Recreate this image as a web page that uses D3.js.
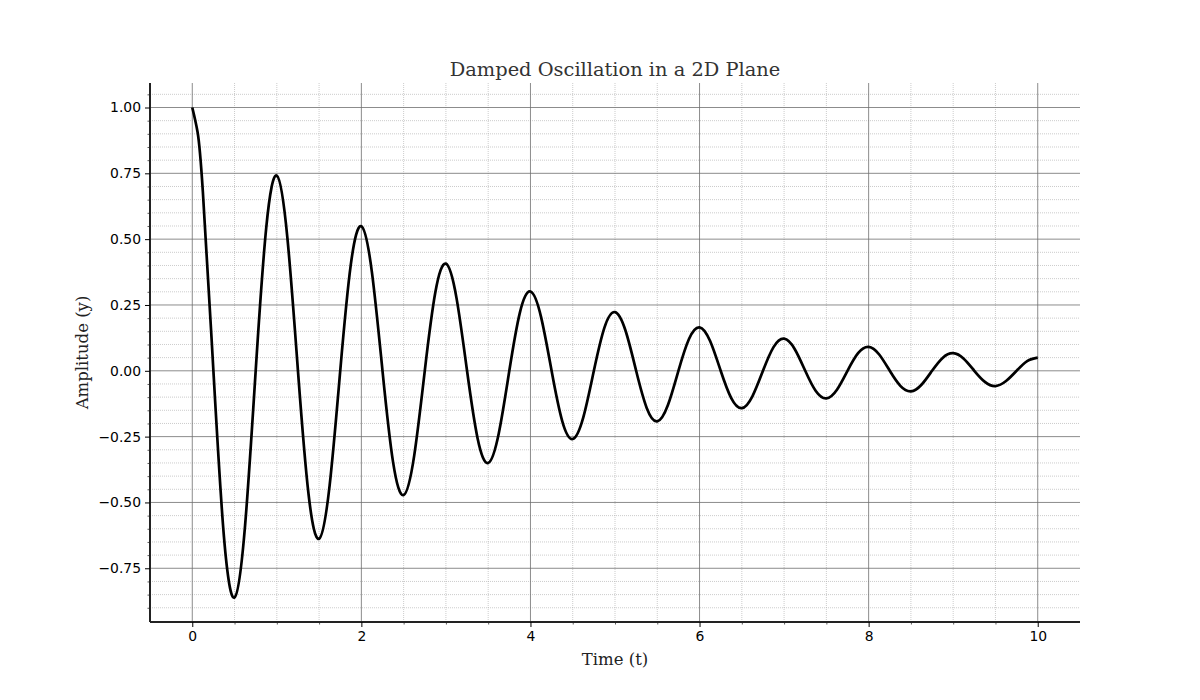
<!DOCTYPE html>
<html>
<head>
<meta charset="utf-8">
<script src="https://cdn.jsdelivr.net/npm/d3@7"></script>
<style>
  html, body { margin: 0; padding: 0; background: #fff; }
  .tick text { font-family: "DejaVu Sans", sans-serif; font-size: 13.9px; fill: #000; }
</style>
</head>
<body>
<div id="chart"></div>
<script>
const timeValues = [
  0, 0.0625, 0.125, 0.25, 0.375, 0.5, 0.625, 0.75, 0.875,
  1, 1.125, 1.25, 1.375, 1.5, 1.625, 1.75, 1.875,
  2, 2.125, 2.25, 2.375, 2.5, 2.625, 2.75, 2.875,
  3, 3.125, 3.25, 3.375, 3.5, 3.625, 3.75, 3.875,
  4, 4.125, 4.25, 4.375, 4.5, 4.625, 4.75, 4.875,
  5, 5.125, 5.25, 5.375, 5.5, 5.625, 5.75, 5.875,
  6, 6.125, 6.25, 6.375, 6.5, 6.625, 6.75, 6.875,
  7, 7.125, 7.25, 7.375, 7.5, 7.625, 7.75, 7.875,
  8, 8.125, 8.25, 8.375, 8.5, 8.625, 8.75, 8.875,
  9, 9.125, 9.25, 9.375, 9.5, 9.625, 9.75, 9.875,
  10
];
const amplitudeValues = [
  1.000, 0.907, 0.681, 0, -0.632, -0.861, -0.586, 0, 0.544,
  0.741, 0.505, 0, -0.468, -0.638, -0.434, 0, 0.403,
  0.549, 0.374, 0, -0.347, -0.472, -0.322, 0, 0.298,
  0.407, 0.277, 0, -0.257, -0.350, -0.238, 0, 0.221,
  0.301, 0.205, 0, -0.190, -0.259, -0.177, 0, 0.164,
  0.223, 0.152, 0, -0.141, -0.192, -0.131, 0, 0.121,
  0.165, 0.113, 0, -0.104, -0.142, -0.097, 0, 0.090,
  0.122, 0.083, 0, -0.077, -0.105, -0.072, 0, 0.067,
  0.091, 0.062, 0, -0.057, -0.078, -0.053, 0, 0.049,
  0.067, 0.046, 0, -0.042, -0.058, -0.039, 0, 0.037,
  0.050
];
const xTicks = [0, 2, 4, 6, 8, 10];
const yTicks = [-0.75, -0.5, -0.25, 0, 0.25, 0.5, 0.75, 1.0];
const xMinorTicks = [0.5, 1, 1.5, 2.5, 3, 3.5, 4.5, 5, 5.5, 6.5, 7, 7.5, 8.5, 9, 9.5];
const yMinorTicks = [-0.9, -0.85, -0.8, -0.7, -0.65, -0.6, -0.55, -0.45, -0.4, -0.35, -0.3,
  -0.2, -0.15, -0.1, -0.05, 0.05, 0.1, 0.15, 0.2, 0.3, 0.35, 0.4, 0.45,
  0.55, 0.6, 0.65, 0.7, 0.8, 0.85, 0.9, 0.95, 1.05];

const data = timeValues.map((t, i) => ({t: t, y: amplitudeValues[i]}));

const W = 1200, H = 700;
const margin = {top: 83, right: 120, bottom: 78, left: 150},
      width = W - margin.left - margin.right,
      height = H - margin.top - margin.bottom;

const svg = d3.select("#chart").append("svg")
    .attr("width", W)
    .attr("height", H)
  .append("g")
    .attr("transform", "translate(" + margin.left + "," + margin.top + ")");

const yMin = d3.min(amplitudeValues), yMax = d3.max(amplitudeValues);
const yPad = (yMax - yMin) * 0.05;
const x = d3.scaleLinear().domain([-0.5, 10.5]).range([0, width]);
const y = d3.scaleLinear().domain([yMin - yPad, yMax + yPad]).range([height, 0]);

const yMinorIn = yMinorTicks.filter(d => y(d) > 0 && y(d) < height);

// minor grid
svg.append("g").selectAll("line")
    .data(xMinorTicks)
  .enter().append("line")
    .attr("x1", d => x(d)).attr("x2", d => x(d))
    .attr("y1", 0).attr("y2", height)
    .attr("stroke", "#aaa").attr("stroke-width", 0.6)
    .attr("stroke-dasharray", "1,1");
svg.append("g").selectAll("line")
    .data(yMinorIn)
  .enter().append("line")
    .attr("y1", d => y(d)).attr("y2", d => y(d))
    .attr("x1", 0).attr("x2", width)
    .attr("stroke", "#aaa").attr("stroke-width", 0.6)
    .attr("stroke-dasharray", "1,1");

// major grid
svg.append("g").selectAll("line")
    .data(xTicks)
  .enter().append("line")
    .attr("x1", d => x(d)).attr("x2", d => x(d))
    .attr("y1", 0).attr("y2", height)
    .attr("stroke", "#6e6e6e").attr("stroke-width", 0.8);
svg.append("g").selectAll("line")
    .data(yTicks)
  .enter().append("line")
    .attr("y1", d => y(d)).attr("y2", d => y(d))
    .attr("x1", 0).attr("x2", width)
    .attr("stroke", "#6e6e6e").attr("stroke-width", 0.8);

// minor ticks
svg.append("g")
    .attr("transform", "translate(0," + height + ")")
    .call(d3.axisBottom(x).tickValues(xMinorTicks).tickSize(2.5).tickFormat(""))
    .call(g => g.select(".domain").remove())
    .selectAll("line").attr("stroke", "#333").attr("stroke-width", 0.8);
svg.append("g")
    .call(d3.axisLeft(y).tickValues(yMinorIn).tickSize(2.5).tickFormat(""))
    .call(g => g.select(".domain").remove())
    .selectAll("line").attr("stroke", "#333").attr("stroke-width", 0.8);

// major axes
const xAxis = svg.append("g")
    .attr("transform", "translate(0," + height + ")")
    .call(d3.axisBottom(x).tickValues(xTicks).tickSize(5).tickPadding(4).tickFormat(d3.format("d")));
const yAxis = svg.append("g")
    .call(d3.axisLeft(y).tickValues(yTicks).tickSize(5).tickPadding(4)
      .tickFormat(d => d3.format(".2f")(d).replace("-", "\u2212")));
[xAxis, yAxis].forEach(g => {
  g.selectAll(".tick line").attr("stroke", "#000").attr("stroke-width", 1);
  g.select(".domain").attr("stroke", "#222").attr("stroke-width", 2);
});
xAxis.select(".domain").attr("d", "M0,0H" + width);
yAxis.select(".domain").attr("d", "M0,0V" + height);

// curve
const line = d3.line()
    .x(d => x(d.t))
    .y(d => y(d.y))
    .curve(d3.curveNatural);

svg.append("path")
    .datum(data)
    .attr("fill", "none")
    .attr("stroke", "#000")
    .attr("stroke-width", 2.7)
    .attr("stroke-linejoin", "round")
    .attr("d", line);

// title and labels
svg.append("text")
    .attr("x", width / 2)
    .attr("y", -7)
    .attr("text-anchor", "middle")
    .style("font-family", "'DejaVu Serif', serif")
    .style("font-size", "19.4px")
    .style("fill", "#333")
    .text("Damped Oscillation in a 2D Plane");

svg.append("text")
    .attr("x", width / 2)
    .attr("y", height + 43)
    .attr("text-anchor", "middle")
    .style("font-family", "'DejaVu Serif', serif")
    .style("font-size", "16.5px")
    .style("fill", "#222")
    .text("Time (t)");

svg.append("text")
    .attr("transform", "rotate(-90)")
    .attr("x", -height / 2)
    .attr("y", -62)
    .attr("text-anchor", "middle")
    .style("font-family", "'DejaVu Serif', serif")
    .style("font-size", "16.5px")
    .style("fill", "#222")
    .text("Amplitude (y)");
</script>
</body>
</html>
